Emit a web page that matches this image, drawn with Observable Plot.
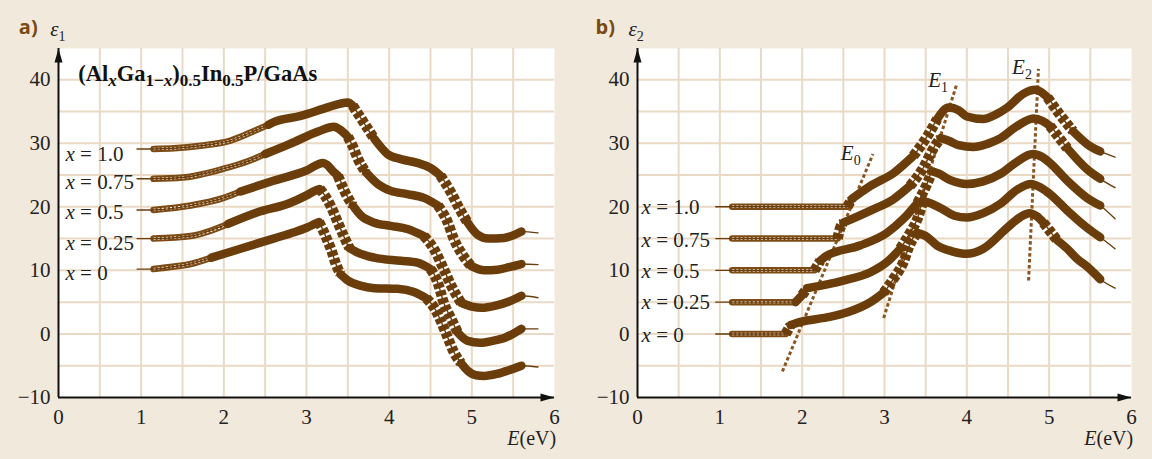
<!DOCTYPE html>
<html><head><meta charset="utf-8">
<script src="https://cdn.jsdelivr.net/npm/d3@7"></script>
<script src="https://cdn.jsdelivr.net/npm/@observablehq/plot@0.6"></script>
<style>
html,body{margin:0;padding:0;background:#f2e9dd;}
#wrap{display:flex;width:1152px;height:459px;overflow:hidden;}
#wrap svg{display:block;flex:none;}
</style></head><body><div id="wrap"></div>
<script>
// ---------- shared tick / grid values ----------
const xTicks = [0, 1, 2, 3, 4, 5, 6];
const yTicks = [-10, 0, 10, 20, 30, 40];
const xGrid = [0.5, 1, 1.5, 2, 2.5, 3, 3.5, 4, 4.5, 5, 5.5];
const yGrid = [-5, 0, 5, 10, 15, 20, 25, 30, 35, 40];
const xLabels = ["x = 0", "x = 0.25", "x = 0.5", "x = 0.75", "x = 1.0"];

// ---------- panel a) ε1 (curves drawn with their vertical offsets) ----------
const e1_x0 = [[1.15,10.2],[1.4,10.6],[1.6,11.0],[1.85,12.0],[2.2,13.4],[2.6,15.0],[2.85,16.0],[3.0,16.7],[3.1,17.3],[3.15,17.6],[3.2,16.3],[3.25,14.8],[3.3,13.2],[3.35,11.2],[3.41,9.4],[3.5,8.4],[3.65,7.6],[3.82,7.2],[4.1,7.1],[4.3,6.6],[4.45,5.6],[4.55,4.0],[4.62,2.2],[4.7,-0.3],[4.78,-2.8],[4.87,-4.6],[4.95,-5.8],[5.05,-6.5],[5.15,-6.6],[5.3,-6.3],[5.45,-5.7],[5.6,-5.0]];
const e1_x25 = [[1.15,15.0],[1.6,15.4],[2.05,17.3],[2.4,19.1],[2.8,20.6],[3.0,21.8],[3.1,22.5],[3.16,22.8],[3.22,21.8],[3.29,20.2],[3.38,17.5],[3.45,15.4],[3.52,13.5],[3.62,12.8],[3.82,12.0],[4.14,11.5],[4.34,11.2],[4.5,10.2],[4.59,8.0],[4.66,4.9],[4.75,2.4],[4.83,0.2],[4.95,-1.1],[5.1,-1.4],[5.25,-1.1],[5.4,-0.6],[5.6,0.8]];
const e1_x50 = [[1.15,19.5],[1.6,20.2],[2.0,21.4],[2.2,22.4],[2.6,24.1],[3.0,25.7],[3.2,26.9],[3.25,26.6],[3.32,25.6],[3.38,24.9],[3.47,22.2],[3.56,20.2],[3.66,18.6],[3.82,17.5],[4.02,17.0],[4.22,16.5],[4.42,15.4],[4.54,13.4],[4.66,10.2],[4.75,7.6],[4.87,4.9],[5.0,4.3],[5.12,4.1],[5.3,4.5],[5.45,5.1],[5.6,6.0]];
const e1_x75 = [[1.15,24.4],[1.5,24.6],[2.0,26.0],[2.3,27.2],[2.5,28.3],[2.8,29.9],[3.15,31.9],[3.33,32.6],[3.42,32.0],[3.5,31.0],[3.56,29.5],[3.62,27.6],[3.72,25.4],[3.86,23.6],[4.02,22.5],[4.22,22.0],[4.42,21.4],[4.59,20.2],[4.71,17.5],[4.78,15.0],[4.87,12.8],[4.99,10.7],[5.15,10.0],[5.31,10.1],[5.45,10.5],[5.6,11.0]];
const e1_x100 = [[1.15,29.1],[1.4,29.2],[1.72,29.6],[2.08,30.4],[2.38,32.0],[2.54,32.9],[2.6,33.3],[2.93,34.3],[3.2,35.4],[3.4,36.2],[3.5,36.4],[3.56,35.9],[3.62,34.7],[3.68,33.5],[3.82,30.7],[3.98,28.3],[4.14,27.5],[4.34,26.9],[4.5,26.1],[4.62,24.9],[4.75,22.2],[4.85,19.7],[4.95,17.5],[5.07,15.6],[5.2,15.0],[5.39,15.1],[5.6,16.1]];
const e1Tail = [-5.2, 0.8, 5.7, 10.9, 15.9];
const e1OpenEnd = [1.85, 2.05, 2.2, 2.5, 2.54];
const e1LabelY = [9.6, 14.3, 19.1, 23.8, 28.3];

// ---------- panel b) ε2 ----------
const e2_x0 = [[1.15,0],[1.8,0],[1.86,1.4],[1.98,1.9],[2.3,2.6],[2.55,3.4],[2.83,5.0],[2.99,6.5],[3.11,8.7],[3.23,11.3],[3.3,13.8],[3.4,15.9],[3.5,15.4],[3.64,13.9],[3.82,13.0],[4.0,12.6],[4.2,13.4],[4.49,16.7],[4.65,18.4],[4.76,19.0],[4.85,18.5],[4.93,17.5],[5.1,14.7],[5.22,13.4],[5.34,11.8],[5.46,10.6],[5.62,8.6]];
const e2_x25 = [[1.15,5],[1.92,5],[2.0,6.1],[2.06,7.2],[2.5,8.4],[2.83,9.7],[3.03,11.3],[3.19,13.4],[3.31,15.9],[3.4,18.1],[3.47,20.9],[3.55,20.6],[3.68,19.8],[3.85,18.6],[4.0,18.3],[4.2,19.0],[4.41,20.5],[4.6,22.6],[4.78,23.6],[4.9,23.0],[5.01,22.0],[5.22,19.4],[5.46,16.7],[5.62,15.2]];
const e2_x50 = [[1.15,10],[2.15,10],[2.22,11.5],[2.3,12.3],[2.7,13.9],[3.03,15.9],[3.23,18.1],[3.4,20.6],[3.52,23.7],[3.58,25.6],[3.66,25.2],[3.8,24.2],[4.0,23.6],[4.2,24.0],[4.41,25.2],[4.6,27.0],[4.8,28.3],[4.92,27.8],[5.01,26.9],[5.22,24.1],[5.46,21.4],[5.62,20.2]];
const e2_x75 = [[1.15,15],[2.43,15],[2.46,16.6],[2.5,17.5],[2.83,19.4],[3.11,21.2],[3.31,23.3],[3.47,26.1],[3.59,29.1],[3.68,30.8],[3.78,30.4],[3.9,29.7],[4.08,29.4],[4.25,29.9],[4.41,30.8],[4.6,32.6],[4.81,33.9],[4.92,33.5],[5.01,32.7],[5.22,29.2],[5.46,25.9],[5.62,24.4]];
const e2_x100 = [[1.15,20],[2.55,20],[2.6,21.2],[2.62,21.4],[2.83,23.3],[3.11,25.3],[3.35,28.0],[3.52,31.1],[3.64,33.8],[3.78,35.6],[3.9,35.2],[4.0,34.2],[4.2,33.8],[4.35,34.5],[4.49,35.6],[4.69,37.8],[4.83,38.4],[4.98,37.2],[5.13,34.5],[5.29,31.9],[5.5,29.5],[5.62,28.7]];
const e2Tail = [7.2, 13.4, 18.1, 23.0, 27.8];
const e2OpenEnd = [1.8, 1.92, 2.15, 2.43, 2.55];
const e2LabelY = [-0.2, 5.0, 9.8, 14.8, 20.0];

// critical-point guide lines (E0, E1, E2) and their labels
const critNames = ["E0", "E1", "E2"];
const critStart = [[1.76,-5.9],[2.99,2.5],[4.75,8.4]];
const critEnd = [[2.86,28.3],[3.88,39.4],[4.87,41.7]];
const critLabelPos = [[2.47,28.4],[3.53,39.9],[4.55,42.0]];

const titleA = "(AlxGa1−x)0.5In0.5P/GaAs";

// ---------- styling ----------
const BROWN = "#6b3d0b", RING = "#7d4c16", GUIDE = "#8a5520", GRID = "#eadac5", TAG = "#7a4a12";
const STEEP = 16; // |dε/dE| above which the marker chain is drawn beaded

const arrowSym = {draw(c) { c.moveTo(0, -7); c.lineTo(4, 7); c.lineTo(-4, 7); c.closePath(); }};

const rich = {
  [titleA]: '(Al<tspan font-style="italic" dy="5" font-size="17">x</tspan><tspan dy="-5">Ga</tspan><tspan dy="5" font-size="17">1−<tspan font-style="italic">x</tspan></tspan><tspan dy="-5">)</tspan><tspan dy="5" font-size="17">0.5</tspan><tspan dy="-5">In</tspan><tspan dy="5" font-size="17">0.5</tspan><tspan dy="-5">P/GaAs</tspan>',
  "E0": '<tspan font-style="italic">E</tspan><tspan dy="5" font-size="14">0</tspan>',
  "E1": '<tspan font-style="italic">E</tspan><tspan dy="5" font-size="14">1</tspan>',
  "E2": '<tspan font-style="italic">E</tspan><tspan dy="5" font-size="14">2</tspan>',
  "ε1": '<tspan font-style="italic">ε</tspan><tspan dy="5" font-size="14">1</tspan>',
  "ε2": '<tspan font-style="italic">ε</tspan><tspan dy="5" font-size="14">2</tspan>',
  "E(eV)": '<tspan font-style="italic">E</tspan>(eV)'
};
xLabels.forEach(l => rich[l] = '<tspan font-style="italic">x</tspan>' + l.slice(1));

function panel({series, tail, openEnd, labelY, labelE, tag, eps, marginLeft, marginRight, showCrit, showTitle}) {
  const solid = [], steep = [], open = [], fit = [];
  series.forEach((pts, k) => {
    const name = xLabels[k];
    pts.forEach(([E, v]) => { if (E <= openEnd[k]) open.push({E, v, z: name}); });
    const filled = pts.filter(([E]) => E >= openEnd[k]);
    let id = 0, cur = null;
    for (let i = 0; i < filled.length - 1; i++) {
      const [a, va] = filled[i], [b, vb] = filled[i + 1];
      const st = Math.abs((vb - va) / (b - a)) > STEEP;
      if (!cur || cur.st !== st) { id++; cur = {st, z: name + "#" + id, pts: [filled[i]]}; (st ? steep : solid).push(cur); }
      cur.pts.push(filled[i + 1]);
    }
    fit.push({E: 0.95, v: pts[0][1], z: name});
    pts.forEach(([E, v]) => fit.push({E, v, z: name}));
    fit.push({E: 5.8, v: tail[k], z: name});
  });
  const flat = runs => runs.flatMap(r => r.pts.map(([E, v]) => ({E, v, z: r.z})));
  const solidRows = flat(solid), steepRows = flat(steep);

  const marks = [
    Plot.frame({fill: "white", stroke: null}),
    Plot.ruleX(xGrid, {stroke: GRID, strokeWidth: 2}),
    Plot.ruleY(yGrid, {stroke: GRID, strokeWidth: 2}),
    Plot.axisX(xTicks, {tickSize: 0, tickPadding: 12, label: null}),
    Plot.axisY(yTicks, {tickSize: 0, tickPadding: 8, label: null}),
  ];
  if (showCrit) {
    const crit = critNames.flatMap((n, i) => [{E: critStart[i][0], v: critStart[i][1], z: n}, {E: critEnd[i][0], v: critEnd[i][1], z: n}]);
    marks.push(Plot.line(crit, {x: "E", y: "v", z: "z", stroke: GUIDE, strokeWidth: 3, strokeDasharray: "3.5 2.5", strokeLinecap: "butt"}));
    marks.push(Plot.text(critNames.map((n, i) => ({E: critLabelPos[i][0], v: critLabelPos[i][1], t: n})), {x: "E", y: "v", text: "t", textAnchor: "start", fontSize: 21, fill: "#222"}));
  }
  marks.push(
    Plot.line(open, {x: "E", y: "v", z: "z", stroke: RING, strokeWidth: 6.5, curve: "monotone-x"}),
    Plot.line(open, {x: "E", y: "v", z: "z", stroke: "white", strokeWidth: 2.4, strokeDasharray: "2.2 1.9", strokeLinecap: "butt", curve: "monotone-x"}),
    Plot.line(solidRows, {x: "E", y: "v", z: "z", stroke: BROWN, strokeWidth: 8.5, curve: "monotone-x"}),
    Plot.line(steepRows, {x: "E", y: "v", z: "z", stroke: BROWN, strokeWidth: 10.5, strokeDasharray: "5.5 2.4", strokeLinecap: "butt", curve: "monotone-x"}),
    Plot.line(fit, {x: "E", y: "v", z: "z", stroke: BROWN, strokeWidth: 1.4, curve: "monotone-x"}),
    Plot.ruleX([0], {y1: -10, y2: 44.9, stroke: "#111", strokeWidth: 2}),
    Plot.ruleY([-10], {x1: 0, x2: 6, stroke: "#111", strokeWidth: 2}),
    Plot.dot([{E: 0, v: 44.9}], {x: "E", y: "v", dy: 7, symbol: arrowSym, fill: "#111", stroke: null}),
    Plot.dot([{E: 6, v: -10}], {x: "E", y: "v", dx: -7, rotate: 90, symbol: arrowSym, fill: "#111", stroke: null}),
    Plot.text(xLabels.map((l, i) => ({E: labelE, v: labelY[i], t: l})), {x: "E", y: "v", text: "t", textAnchor: "start", fontSize: 21, fill: "#222"}),
    Plot.text([{E: 6.02, v: -16.4, t: "E(eV)"}], {x: "E", y: "v", text: "t", textAnchor: "end", fontSize: 20, fill: "#222"}),
    Plot.text([{E: tag.E, v: 48.2, t: tag.t}], {x: "E", y: "v", text: "t", textAnchor: "start", fontSize: 20, fontWeight: 700, fontFamily: "Open Sans", fill: TAG}),
    Plot.text([{E: eps.E, v: 48.0, t: eps.t}], {x: "E", y: "v", text: "t", textAnchor: "start", fontSize: 21, fill: "#222"})
  );
  if (showTitle) marks.push(Plot.text([{E: 0.24, v: 40.9, t: titleA}], {x: "E", y: "v", text: "t", textAnchor: "start", fontSize: 22.5, fontWeight: 700, fill: "#111"}));

  const svg = Plot.plot({
    width: 576, height: 459,
    marginLeft, marginRight, marginTop: 48, marginBottom: 62,
    x: {domain: [0, 6]}, y: {domain: [-10, 44.9]},
    style: {background: "transparent", fontFamily: "Liberation Serif", fontSize: "21px", color: "#222", overflow: "visible"},
    marks
  });
  d3.select(svg).selectAll("text").each(function() {
    const t = this.textContent;
    if (rich[t]) this.innerHTML = rich[t];
  });
  return svg;
}

const wrap = document.getElementById("wrap");
wrap.append(panel({series: [e1_x0, e1_x25, e1_x50, e1_x75, e1_x100], tail: e1Tail, openEnd: e1OpenEnd, labelY: e1LabelY, labelE: 0.085,
  tag: {E: -0.48, t: "a)"}, eps: {E: -0.1, t: "ε1"}, marginLeft: 58, marginRight: 22, showCrit: false, showTitle: true}));
wrap.append(panel({series: [e2_x0, e2_x25, e2_x50, e2_x75, e2_x100], tail: e2Tail, openEnd: e2OpenEnd, labelY: e2LabelY, labelE: 0.05,
  tag: {E: -0.51, t: "b)"}, eps: {E: -0.11, t: "ε2"}, marginLeft: 61, marginRight: 21, showCrit: true, showTitle: false}));
</script></body></html>
